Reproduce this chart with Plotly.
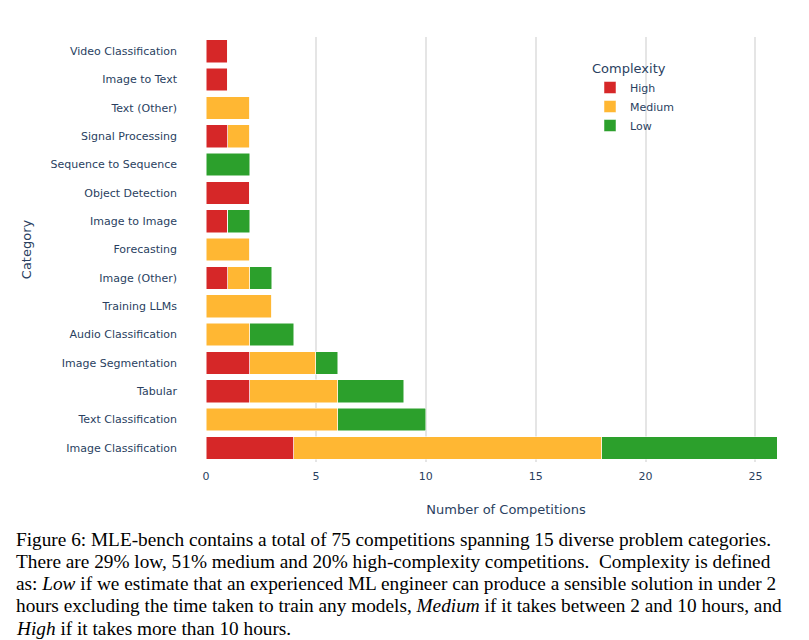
import plotly.graph_objects as go

categories = ["Video Classification","Image to Text","Text (Other)","Signal Processing",
"Sequence to Sequence","Object Detection","Image to Image","Forecasting","Image (Other)",
"Training LLMs","Audio Classification","Image Segmentation","Tabular","Text Classification",
"Image Classification"]
high =   [1,1,0,1,0,2,1,0,1,0,0,2,2,0,4]
medium = [0,0,2,1,0,0,0,2,1,3,2,3,4,6,14]
low =    [0,0,0,0,2,0,1,0,1,0,2,1,3,4,8]

cats = categories[::-1]
fig = go.Figure()
for name, vals, col in [("High", high, "#d62728"), ("Medium", medium, "#ffb733"), ("Low", low, "#2ca02c")]:
    fig.add_bar(y=cats, x=vals[::-1], name=name, orientation="h", marker_color=col,
                marker_line_color="white", marker_line_width=0.5)

L, R, T, B = 198, 11, 29, 186
H = 640 - T - B
W = 809 - L - R
lines = [
"Figure 6: MLE-bench contains a total of 75 competitions spanning 15 diverse problem categories.",
"There are 29% low, 51% medium and 20% high-complexity competitions.  Complexity is defined",
"as: <i>Low</i> if we estimate that an experienced ML engineer can produce a sensible solution in under 2",
"hours excluding the time taken to train any models, <i>Medium</i> if it takes between 2 and 10 hours, and",
"<i>High</i> if it takes more than 10 hours.",
]
for i, t in enumerate(lines):
    py = 531 + i * 22.3
    fig.add_annotation(text=t, xref="paper", yref="paper", x=(6 - L) / W, y=(640 - B - py) / H,
                       xanchor="left", yanchor="middle", showarrow=False,
                       font=dict(family="Liberation Serif", size=19.3, color="black"))

fig.update_layout(
    width=809, height=640, barmode="stack", bargap=0.2,
    margin=dict(l=L, r=R, t=T, b=B, autoexpand=False), plot_bgcolor="white", paper_bgcolor="white",
    font=dict(family="DejaVu Sans", size=11, color="#2a3f5f"),
    legend=dict(title=dict(text="Complexity", font=dict(size=13)), x=0.64, y=0.955,
                xanchor="left", yanchor="top", font=dict(size=11), bgcolor="rgba(0,0,0,0)",
                traceorder="normal"),
    xaxis=dict(title=dict(text="Number of Competitions", font=dict(size=13), standoff=22), range=[0, 27.3],
               showgrid=True, gridcolor="#e5e5e5", gridwidth=1.5, zeroline=False, dtick=5,
               automargin=False, ticklabelstandoff=6),
    yaxis=dict(title=dict(text="Category", font=dict(size=13)), showgrid=False,
               automargin=False, ticklabelstandoff=28),
)
fig.write_html("out.html")
